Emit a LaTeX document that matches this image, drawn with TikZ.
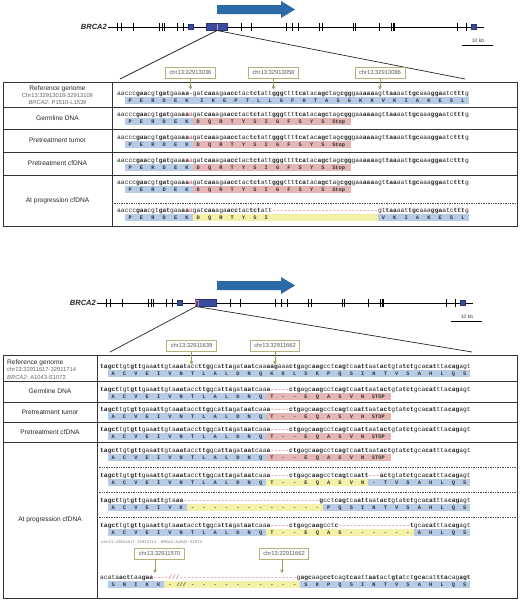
\documentclass[tikz,border=0pt]{standalone}
\usepackage{fontspec}
\setmainfont{Liberation Sans}
\newfontfamily\seqfont[Ligatures=TeXOff]{Liberation Mono}
\usetikzlibrary{arrows.meta}
\definecolor{seqblue}{HTML}{B7CBE6}
\definecolor{seqpink}{HTML}{E4B7B6}
\definecolor{seqyellow}{HTML}{F3F0A8}
\definecolor{mutred}{HTML}{D9434B}
\definecolor{genearrow}{HTML}{2B6AA6}
\definecolor{exonblue}{HTML}{3A4CA0}
\definecolor{olivec}{HTML}{A39C63}
\definecolor{boxedge}{HTML}{B9B07E}
\def\cw{3.78}
\ExplSyntaxOn
\int_new:N \l_rs_idx_int
\int_new:N \l_rs_par_int
\bool_new:N \l_rs_pre_bool
\str_new:N \l_rs_seq_str
\cs_new:Npn \dsh #1 { \prg_replicate:nn {#1} {-} }
\cs_new_protected:Npn \rs_plain:n #1
 {
  \int_compare:nNnTF { \l_rs_idx_int } < { 2 }
   { \bool_if:NTF \l_rs_pre_bool { {\bfseries #1} } { #1 } }
   {
    \int_compare:nNnTF
      { \int_mod:nn { \int_div_truncate:nn { \l_rs_idx_int - 2 } { 3 } } { 2 } } = { \l_rs_par_int }
     { {\bfseries #1} } { #1 }
   }
 }
\NewDocumentCommand \seqstr { m m m }
 {
  \int_set:Nn \l_rs_par_int {#1}
  \bool_set:Nn \l_rs_pre_bool { \int_compare_p:nNn {#2} = {1} }
  \int_zero:N \l_rs_idx_int
  \str_set:Nx \l_rs_seq_str {#3}
  \str_map_inline:Nn \l_rs_seq_str
   {
    \str_case:nnF {##1}
     {
      {-} { \textcolor{mutred}{-} }
      {_} { - }
      {/} { \textcolor{mutred}{/} }
      {A} { \textcolor{mutred}{a} }
     }
     { \rs_plain:n {##1} }
    \int_incr:N \l_rs_idx_int
   }
 }
\ExplSyntaxOff
\newcommand\seqline[6]{\node[seq] (#1) at (#2,#3) {\seqstr{#4}{#5}{#6}};}
\newcommand\aabar[5]{\fill[#5] ({#1+#3*\cw},{#2}) rectangle ({#1+#4*\cw},{#2+7});}
\newcommand\aalet[6]{\foreach \l [count=\i from #3] in {#5} {\node[aa] (#6-\i) at ({#1+(3.5+3*\i+#4)*\cw},{#2+5.6}) {\l};}}
\newcommand\aaword[6]{\node[aa,anchor=base west] (#6) at ({#1+(2.9+3*#3+#4)*\cw},{#2+5.6}) {#5};}
\newcommand\genediagram[2]{%
\begin{scope}[shift={#1}]
 \draw[line width=0.6pt] (108,27) -- (484,27);
 \foreach \t in {117,121,133,159,162,164,177,183,241,251,286,292,298,319,322,353,355,379,391,393,394,457,466} {\draw[tick] (\t,23) -- (\t,31);}
 \filldraw[exon] (188,24.5) rectangle (193.5,29.5);
 \filldraw[exon] (206,23.5) rectangle (227,30.5);
 \filldraw[exon] (471,24.5) rectangle (476,29.5);
 \node[anchor=east, inner sep=0pt, font=\bfseries\itshape\fontsize{7.5}{8}\selectfont, text=black!85] (#2lab) at (107,27) {BRCA2};
 \node[inner sep=0pt, font=\fontsize{5}{6}\selectfont, text=black!75] (#2kb) at (478,40.5) {10 kb};
 \draw[line width=0.6pt] (462,45) -- (493,45);
\end{scope}}
\newcommand\bigarrow[1]{\fill[genearrow] (217,#1-4.5) -- (281,#1-4.5) -- (281,#1-8.5) -- (295,#1) -- (281,#1+8.5) -- (281,#1+4.5) -- (217,#1+4.5) -- cycle;}
\begin{document}
\begin{tikzpicture}[x=1pt,y=-1pt,
  seq/.style={anchor=base west, inner sep=0pt, font=\seqfont\fontsize{6.3}{7}\selectfont, text=black!85},
  aa/.style={anchor=base, inner sep=0pt, font=\seqfont\bfseries\fontsize{5.3}{6}\selectfont, text=black!80},
  lab/.style={inner sep=0pt, font=\fontsize{6.6}{7.5}\selectfont, text=black!85},
  sublab/.style={inner sep=0pt, font=\fontsize{5.8}{7}\selectfont, text=black!60},
  chrbox/.style={draw=boxedge, line width=0.6pt, fill=white, font=\fontsize{5.8}{6.5}\selectfont, text=black!65, inner xsep=4pt, inner ysep=0pt, minimum height=11pt},
  pin/.style={draw=olivec, line width=0.6pt, -{Triangle[length=3.2pt,width=3.6pt]}},
  zoomline/.style={draw=black!85, line width=0.7pt},
  tbl/.style={draw=black!80, line width=0.6pt},
  subline/.style={draw=black!70, line width=0.5pt, dash pattern=on 1pt off 0.7pt},
  exon/.style={fill=exonblue, draw=exonblue!70!black, line width=0.4pt},
  tick/.style={draw=black, line width=0.8pt}]
\useasboundingbox (0,0) rectangle (520,605);
\fill[white] (0,0) rectangle (520,605);

% ================= TOP PANEL =================
\bigarrow{9.5}
\genediagram{(0,0)}{ga}
\draw[mutred!60, line width=0.9pt] (217,23.5) -- (217,30.5);
\coordinate (za) at (217,30.5);
\coordinate (zal) at (120,79);
\coordinate (zar) at (465,79);
\draw[zoomline] (za) -- (zal);
\draw[zoomline] (za) -- (zar);

\draw[tbl] (3,82) rectangle (517,226);
\draw[tbl] (112,82) -- (112,226);
\foreach \yy in {107,129,152,175} {\draw[tbl] (3,\yy) -- (517,\yy);}
\draw[subline] (112,203) -- (517,203);

\node[lab] (ta1) at (57.5,89) {Reference genome};
\node[sublab] (ta2) at (57.5,95.8) {Chr13:32913018-32913109};
\node[sublab] (ta3) at (57.5,102.6) {\textit{BRCA2}: P1510-L1539};
\node[lab] (ta4) at (57.5,118) {Germline DNA};
\node[lab] (ta5) at (57.5,140.5) {Pretreatment tumor};
\node[lab] (ta6) at (57.5,163.5) {Pretreatment cfDNA};
\node[lab] (ta7) at (57.5,200.5) {At progression cfDNA};

\node[chrbox] (c1) at (190.5,72.5) {chr13:32913036};
\node[chrbox] (c2) at (273.5,72.5) {chr13:32913058};
\node[chrbox] (c3) at (380,72.5) {chr13:32913086};
\coordinate (c1t) at (190.5,89.5);
\coordinate (c2t) at (273.5,89.5);
\coordinate (c3t) at (380,89.5);
\draw[pin] (c1) -- (c1t);
\draw[pin] (c2) -- (c2t);
\draw[pin] (c3) -- (c3t);

% reference
\seqline{s1}{117}{95}{1}{0}{aacccgaacgtgatgaaaa_gatcaaagaacctactctattgggttttcatacagctagcgggaaaaaagttaaaattgcaaaggaatctttg}
\aabar{117}{97}{2}{93}{seqblue}
\aalet{117}{97}{0}{0}{P,E,R,D,E,K}{r1}
\aalet{117}{97}{6}{1}{I,K,E,P,T,L,L,G,F,H,T,A,S,G,K,K,V,K,I,A,K,E,S,L}{r1b}
% germline, tumor, cfDNA, progression 1
\foreach \sy/\by/\nm in {116/118/g, 139/141/t, 162/164/c, 184/186/p} {
  \seqline{s\nm}{117}{\sy}{1}{0}{aacccgaacgtgatgaaaaAgatcaaagaacctactctattgggttttcatacagctagcgggaaaaaagttaaaattgcaaaggaatctttg}
  \aabar{117}{\by}{2}{20}{seqblue}
  \aabar{117}{\by}{20}{62}{seqpink}
  \aalet{117}{\by}{0}{0}{P,E,R,D,E,K}{a\nm}
  \aalet{117}{\by}{6}{0}{D,Q,R,T,Y,S,I,G,F,S,Y,S}{b\nm}
  \aaword{117}{\by}{18}{0}{Stop}{w\nm}
}
% progression 2
\seqline{sq}{117}{212}{1}{0}{aacccgaacgtgatgaaaaAgatcaaagaacctactctatt\dsh{28}gttaaaattgcaaaggaatctttg}
\aabar{117}{214}{2}{20}{seqblue}
\aabar{117}{214}{20}{69}{seqyellow}
\aabar{117}{214}{69}{93}{seqblue}
\aalet{117}{214}{0}{0}{P,E,R,D,E,K}{aq}
\aalet{117}{214}{6}{0}{D,Q,R,T,Y,S,I}{bq}
\aalet{117}{214}{22}{1}{V,K,I,A,K,E,S,L}{cq}

% ================= BOTTOM PANEL =================
\bigarrow{285.5}
\genediagram{(-11,276)}{gb}
\draw[mutred!70, line width=0.6pt] (195.3,299.8) rectangle (197.8,306.2);
\coordinate (zb) at (196,306.5);
\coordinate (zbl) at (110,352);
\coordinate (zbr) at (472,352);
\draw[zoomline] (zb) -- (zbl);
\draw[zoomline] (zb) -- (zbr);

\draw[tbl] (3,355) rectangle (517,598);
\draw[tbl] (97,355) -- (97,598);
\foreach \yy in {381,402,422,442} {\draw[tbl] (3,\yy) -- (517,\yy);}
\foreach \yy in {467,492,517} {\draw[subline] (97,\yy) -- (517,\yy);}

\node[lab, anchor=west] (tb1) at (7,362.5) {Reference genome};
\node[sublab, anchor=west] (tb2) at (7,369.8) {chr13:32911617-32911714};
\node[sublab, anchor=west] (tb3) at (7,377) {\textit{BRCA2}: A1043-S1072};
\node[lab] (tb4) at (50,391.5) {Germline DNA};
\node[lab] (tb5) at (50,412) {Pretreatment tumor};
\node[lab] (tb6) at (50,432) {Pretreatment cfDNA};
\node[lab] (tb7) at (50,520) {At progression cfDNA};

\node[chrbox] (c4) at (191.5,345.5) {chr13:32911639};
\node[chrbox] (c5) at (275,345.5) {chr13:32911662};
\coordinate (c4t) at (191.5,364.5);
\coordinate (c5t) at (275,364.5);
\draw[pin] (c4) -- (c4t);
\draw[pin] (c5) -- (c5t);

% reference
\seqline{u1}{100}{368}{0}{1}{tagcttgtgttgaaattgtaaataccttggcattagataatcaaaagaaactgagcaagcctcagtcaattaatactgtatctgcacatttacagagt}
\aabar{100}{370}{2}{98}{seqblue}
\aalet{100}{370}{0}{0}{A,C,V,E,I,V,N,T,L,A,L,D,N,Q,K,K,L,S,K,P,Q,S,I,N,T,V,S,A,H,L,Q,S}{v1}
% germline, tumor, cfDNA, progression 0
\foreach \sy/\by/\nm in {391/393/g, 411/413/t, 431/433/c, 452/454/p} {
  \seqline{u\nm}{100}{\sy}{0}{1}{tagcttgtgttgaaattgtaaataccttggcattagataatcaaa-----ctgagcaagcctcagtcaattaatactgtatctgcacatttacagagt}
  \aabar{100}{\by}{2}{44}{seqblue}
  \aabar{100}{\by}{44}{77}{seqpink}
  \aalet{100}{\by}{0}{0}{A,C,V,E,I,V,N,T,L,A,L,D,N,Q}{x\nm}
  \aalet{100}{\by}{14}{0}{T,-,-,E,Q,A,S,V,N}{y\nm}
  \aaword{100}{\by}{23}{0}{STOP}{z\nm}
}
% progression 1
\seqline{uq}{100}{477}{0}{1}{tagcttgtgttgaaattgtaaataccttggcattagataatcaaa-----ctgagcaagcctcagtcaatt---actgtatctgcacatttacagagt}
\aabar{100}{479}{2}{44}{seqblue}
\aabar{100}{479}{44}{71}{seqyellow}
\aabar{100}{479}{71}{98}{seqblue}
\aalet{100}{479}{0}{0}{A,C,V,E,I,V,N,T,L,A,L,D,N,Q}{xq}
\aalet{100}{479}{14}{0}{T,-,-,E,Q,A,S,V,N}{yq}
\aalet{100}{479}{23}{0}{-,T,V,S,A,H,L,Q,S}{zq}
% progression 2
\seqline{ur}{100}{502}{0}{1}{tagcttgtgttgaaattgtaaa\dsh{36}gcctcagtcaattaatactgtatctgcacatttacagagt}
\aabar{100}{504}{2}{23}{seqblue}
\aabar{100}{504}{23}{59}{seqyellow}
\aabar{100}{504}{59}{98}{seqblue}
\aalet{100}{504}{0}{0}{A,C,V,E,I,V,K}{xr}
\aalet{100}{504}{7}{0}{-,-,-,-,-,-,-,-,-,-,-,-}{yr}
\aalet{100}{504}{19}{0}{P,Q,S,I,N,T,V,S,A,H,L,Q,S}{zr}
% progression 3
\seqline{us}{100}{527}{0}{1}{tagcttgtgttgaaattgtaaataccttggcattagataatcaaa-----ctgagcaagcctc\dsh{19}tgcacatttacagagt}
\aabar{100}{529}{2}{44}{seqblue}
\aabar{100}{529}{44}{83}{seqyellow}
\aabar{100}{529}{83}{98}{seqblue}
\aalet{100}{529}{0}{0}{A,C,V,E,I,V,N,T,L,A,L,D,N,Q}{xs}
\aalet{100}{529}{14}{0}{T,-,-,E,Q,A,S,-,-,-,-,-,-}{ys}
\aalet{100}{529}{27}{0}{A,H,L,Q,S}{zs}
% progression 4 (large deletion)
\node[anchor=base west, inner sep=0pt, font=\seqfont\fontsize{4}{5}\selectfont, text=black!55] (ct) at (101,543) {chr13:32911617-32911714\ \ BRCA2:A1043-S1072};
\node[chrbox] (c6) at (159.5,553.5) {chr13:32911570};
\node[chrbox] (c7) at (284,553.5) {chr13:32911662};
\coordinate (c6t) at (155,573);
\coordinate (c7t) at (282,573);
\draw[pin] (c6.south -| c6t) -- (c6t);
\draw[pin] (c7.south -| c7t) -- (c7t);
\seqline{ut}{100}{579}{1}{0}{acataacttaagaa----///\dsh{31}gagcaagcctcagtcaattaatactgtatctgcacatttacagagt}
\aabar{100}{581}{2}{17}{seqblue}
\aabar{100}{581}{17}{53}{seqyellow}
\aabar{100}{581}{53}{98}{seqblue}
\aalet{100}{581}{0}{0}{S,N,I,K,K,-,///,-,-,-,-,-,-,-,-,-,-}{xt}
\aalet{100}{581}{17}{0}{S,K,P,Q,S,I,N,T,V,S,A,H,L,Q,S}{zt}
\end{tikzpicture}
\end{document}
